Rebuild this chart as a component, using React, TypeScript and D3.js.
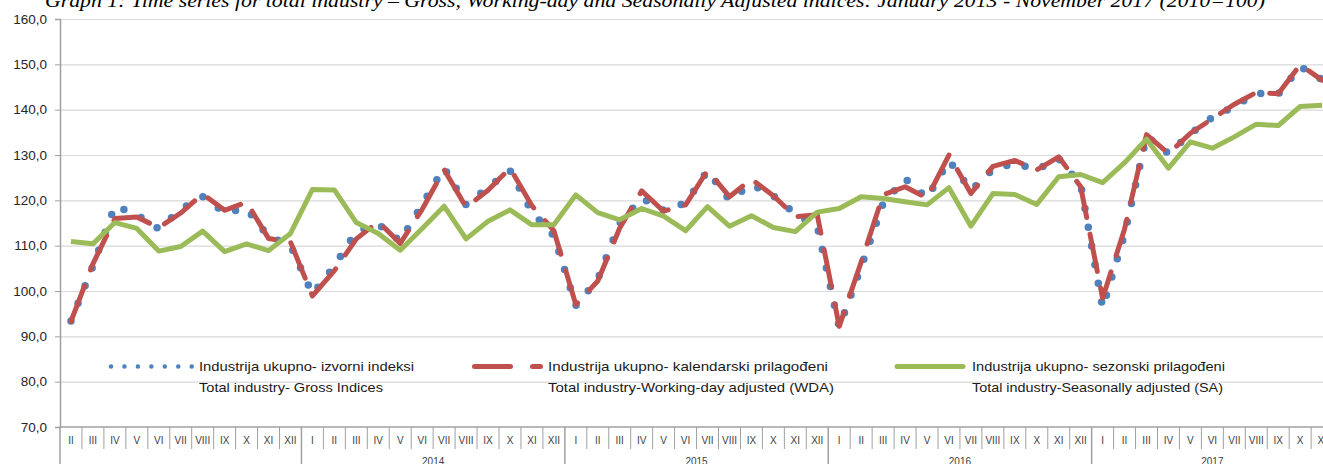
import * as d3 from "d3";
import { useEffect, useRef } from "react";

// Roman month labels and years covered (Feb 2013 - Nov 2017)
const monthLabels = ["I", "II", "III", "IV", "V", "VI", "VII", "VIII", "IX", "X", "XI", "XII"];
const years = [2013, 2014, 2015, 2016, 2017];
const yearLabels = ["", "2014", "2015", "2016", "2017"];
const firstMonth = 1; // February 2013
const lastMonth = 10; // November 2017

// Gross indices
const gross = [
  93.4, 105.5, 118.8, 116.8, 113.7, 118.0, 120.8, 117.3, 118.2, 112.0, 110.1,
  99.3, 105.5, 113.2, 114.7, 111.0, 119.1, 127.2, 119.0, 122.8, 126.6, 117.4, 112.2,
  96.8, 102.6, 115.0, 120.5, 117.8, 119.4, 126.5, 120.1, 123.5, 121.0, 117.0, 114.3,
  92.0, 105.3, 119.3, 124.8, 120.5, 128.8, 122.2, 126.8, 128.2, 126.8, 129.2, 123.5,
  96.3, 112.5, 134.2, 130.3, 134.7, 138.3, 140.7, 143.6, 143.4, 149.5, 146.6,
];

// Working-day adjusted
const wda = [
  93.3, 106.0, 116.0, 116.3, 114.0, 117.2, 121.4, 117.8, 119.6, 111.6, 110.8,
  98.9, 104.5, 111.5, 115.3, 110.5, 118.0, 126.8, 118.5, 122.2, 127.1, 118.8, 113.3,
  97.0, 102.2, 113.9, 122.1, 117.6, 119.0, 126.6, 120.8, 124.7, 121.0, 116.4, 116.8,
  92.2, 106.4, 121.2, 123.0, 120.5, 130.0, 121.5, 127.5, 128.8, 126.7, 129.6, 123.0,
  98.4, 113.7, 134.5, 130.3, 134.8, 138.0, 141.2, 143.8, 143.5, 149.9, 146.5,
];

// Seasonally adjusted
const sa = [
  110.9, 110.4, 115.1, 113.8, 108.8, 109.8, 113.2, 108.7, 110.4, 108.9, 112.7,
  122.4, 122.3, 115.1, 112.7, 109.0, 113.8, 118.7, 111.5, 115.4, 117.9, 114.6, 114.6,
  121.2, 117.3, 115.7, 118.2, 116.5, 113.3, 118.6, 114.3, 116.6, 114.0, 113.1, 117.4,
  118.2, 120.8, 120.4, 119.7, 119.0, 122.8, 114.3, 121.5, 121.3, 119.1, 125.2, 125.7,
  123.9, 128.3, 133.5, 127.1, 132.9, 131.5, 134.0, 136.8, 136.5, 140.7, 141.0,
];

const yTicks = [70, 80, 90, 100, 110, 120, 130, 140, 150, 160];

const title =
  "Graph 1: Time series for total industry – Gross, Working-day and Seasonally Adjusted indices: January 2013 - November  2017 (2010=100)";

const legendItems = [
  { key: "gross", line1: "Industrija ukupno- izvorni indeksi", line2: "Total industry- Gross Indices" },
  { key: "wda", line1: "Industrija ukupno- kalendarski prilagođeni", line2: "Total industry-Working-day adjusted (WDA)" },
  { key: "sa", line1: "Industrija ukupno- sezonski prilagođeni", line2: "Total industry-Seasonally adjusted (SA)" },
];

const categories: { year: number; month: number }[] = [];
years.forEach((yr, yi) => {
  monthLabels.forEach((_, m) => {
    if (yi === 0 && m < firstMonth) return;
    if (yi === years.length - 1 && m > lastMonth) return;
    categories.push({ year: yr, month: m });
  });
});

export default function App() {
  const svgRef = useRef<SVGSVGElement | null>(null);

  useEffect(() => {
    if (!svgRef.current) return;
    const svg = d3.select(svgRef.current);
    svg.selectAll("*").remove();

    const width = 1323;
    const height = 464;
    const left = 60;
    const step = 21.95;
    const top = 19;
    const bottom = 427;
    const right = left + categories.length * step;
    const axisFont = "'Liberation Sans', Arial, sans-serif";

    svg.attr("width", width).attr("height", height);

    const x = d3
      .scaleBand<number>()
      .domain(d3.range(categories.length))
      .range([left, right])
      .padding(0);
    const bw = x.bandwidth();
    const cx = (i: number) => (x(i) as number) + bw / 2;

    const y = d3.scaleLinear().domain([70, 160]).range([bottom, top]);

    // title (mostly cut off at the top)
    svg
      .append("text")
      .attr("x", 45)
      .attr("y", 7)
      .attr("font-family", "'Liberation Serif', 'DejaVu Serif', serif")
      .attr("font-style", "italic")
      .attr("font-size", 18)
      .attr("textLength", 1220)
      .attr("lengthAdjust", "spacingAndGlyphs")
      .attr("fill", "#000")
      .text(title);

    // gridlines
    const grid = svg
      .append("g")
      .attr("transform", `translate(${left},0)`)
      .call(
        d3
          .axisLeft(y)
          .tickValues(yTicks.slice(1))
          .tickSize(-(right - left))
          .tickFormat(() => "") as any
      );
    grid.select(".domain").remove();
    grid.selectAll("line").attr("stroke", "#d9d9d9").attr("stroke-width", 1.2);

    // y axis
    const yAxis = svg
      .append("g")
      .attr("transform", `translate(${left},0)`)
      .call(
        d3
          .axisLeft(y)
          .tickValues(yTicks)
          .tickSize(5)
          .tickPadding(8)
          .tickFormat((d) => d3.format(".1f")(d as number).replace(".", ",")) as any
      );
    yAxis.select(".domain").attr("stroke", "#a0a0a0").attr("stroke-width", 1.5);
    yAxis.selectAll("line").attr("stroke", "#a0a0a0");
    yAxis
      .selectAll("text")
      .attr("fill", "#262626")
      .attr("font-size", 13.5)
      .attr("font-family", axisFont);

    // x axis (month labels)
    const xAxis = svg
      .append("g")
      .attr("transform", `translate(0,${bottom})`)
      .call(
        d3
          .axisBottom(x)
          .tickSize(0)
          .tickPadding(10)
          .tickFormat((i) => monthLabels[categories[i as number].month]) as any
      );
    xAxis.select(".domain").remove();
    xAxis
      .selectAll("text")
      .attr("fill", "#404040")
      .attr("font-size", 10)
      .attr("font-family", axisFont);

    svg
      .append("line")
      .attr("x1", left)
      .attr("x2", right)
      .attr("y1", bottom)
      .attr("y2", bottom)
      .attr("stroke", "#a0a0a0")
      .attr("stroke-width", 1.5);

    // category separators, longer at year boundaries
    const seps = svg.append("g");
    categories.forEach((c, i) => {
      const isYear = c.month === 0 || i === 0;
      seps
        .append("line")
        .attr("x1", x(i) as number)
        .attr("x2", x(i) as number)
        .attr("y1", bottom)
        .attr("y2", isYear ? height : 449)
        .attr("stroke", "#a0a0a0")
        .attr("stroke-width", isYear ? 1.5 : 1);
    });

    // year labels
    years.forEach((yr, yi) => {
      const idx = categories.map((c, i) => (c.year === yr ? i : -1)).filter((i) => i >= 0);
      const x0 = x(idx[0]) as number;
      const x1 = (x(idx[idx.length - 1]) as number) + bw;
      svg
        .append("text")
        .attr("x", (x0 + x1) / 2)
        .attr("y", 464.5)
        .attr("text-anchor", "middle")
        .attr("font-size", 10)
        .attr("font-family", axisFont)
        .attr("fill", "#404040")
        .text(yearLabels[yi]);
    });

    const line = d3
      .line<number>()
      .x((_, i) => cx(i))
      .y((d) => y(d));

    svg
      .append("path")
      .datum(gross)
      .attr("d", line)
      .attr("fill", "none")
      .attr("stroke", "#4f81bd")
      .attr("stroke-width", 7.5)
      .attr("stroke-linecap", "round")
      .attr("stroke-linejoin", "round")
      .attr("stroke-dasharray", "0 19");

    svg
      .append("path")
      .datum(wda)
      .attr("d", line)
      .attr("fill", "none")
      .attr("stroke", "#c0504d")
      .attr("stroke-width", 5)
      .attr("stroke-linecap", "round")
      .attr("stroke-linejoin", "round")
      .attr("stroke-dasharray", "38 17");

    svg
      .append("path")
      .datum(sa)
      .attr("d", line)
      .attr("fill", "none")
      .attr("stroke", "#9bbb59")
      .attr("stroke-width", 5)
      .attr("stroke-linejoin", "round");

    // legend
    const legendFont = "'Liberation Sans', Arial, sans-serif";
    const legendLayout: Record<string, { s0: number; s1: number; tx: number; w1: number; w2: number }> = {
      gross: { s0: 111, s1: 192, tx: 199, w1: 215, w2: 184 },
      wda: { s0: 474.5, s1: 540.5, tx: 548, w1: 280, w2: 286 },
      sa: { s0: 897, s1: 963, tx: 972, w1: 253, w2: 251 },
    };
    const legend = svg.append("g");
    legendItems.forEach((item) => {
      const L = legendLayout[item.key];
      const sample = legend
        .append("line")
        .attr("x1", L.s0)
        .attr("x2", L.s1)
        .attr("y1", 366.5)
        .attr("y2", 366.5)
        .attr("stroke-linecap", "round");
      if (item.key === "gross") {
        sample.attr("stroke", "#4f81bd").attr("stroke-width", 4.5).attr("stroke-dasharray", "0 13.45");
      } else if (item.key === "wda") {
        sample.attr("stroke", "#c0504d").attr("stroke-width", 5).attr("stroke-dasharray", "36 22");
      } else {
        sample.attr("stroke", "#9bbb59").attr("stroke-width", 5);
      }
      [item.line1, item.line2].forEach((t, k) => {
        legend
          .append("text")
          .attr("x", L.tx)
          .attr("y", k === 0 ? 371 : 392)
          .attr("font-size", 13.5)
          .attr("font-family", legendFont)
          .attr("fill", "#1a1a1a")
          .attr("textLength", k === 0 ? L.w1 : L.w2)
          .attr("lengthAdjust", "spacingAndGlyphs")
          .text(t);
      });
    });
  }, []);

  return (
    <svg
      ref={svgRef}
      width={1323}
      height={464}
      style={{ position: "absolute", left: 0, top: 0, display: "block", background: "#fff" }}
    />
  );
}
